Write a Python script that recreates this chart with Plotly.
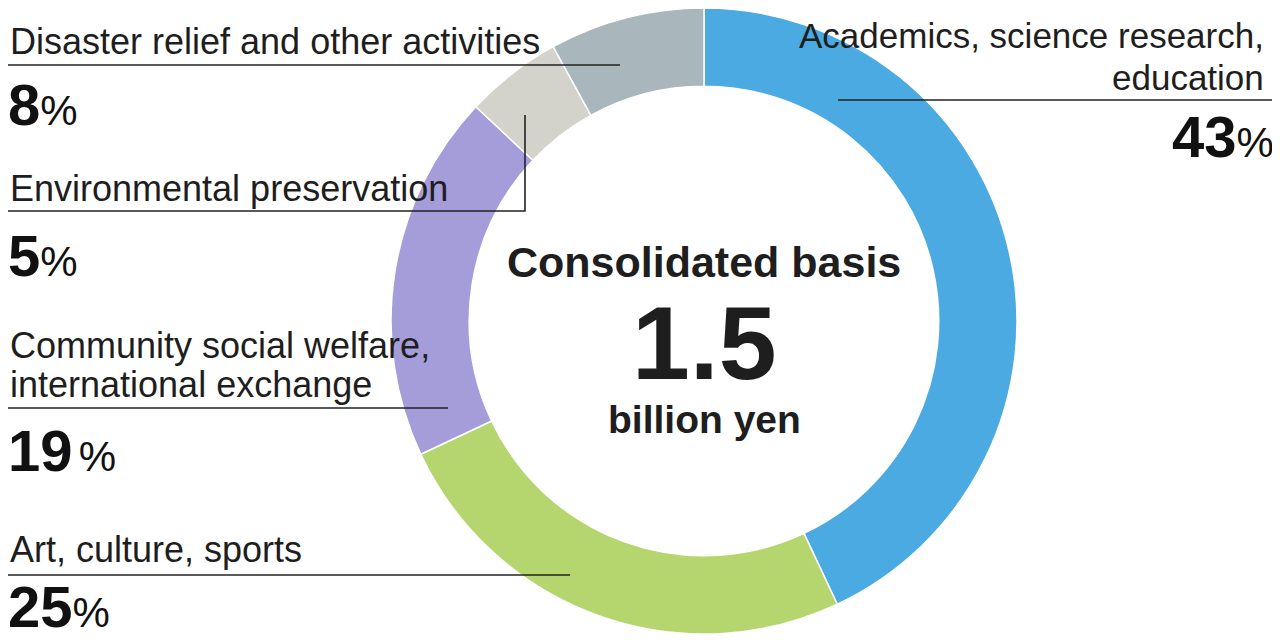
import plotly.graph_objects as go

categories = ["Academics, science research, education", "Art, culture, sports",
              "Community social welfare, international exchange",
              "Environmental preservation", "Disaster relief and other activities"]
shares = [43, 25, 19, 5, 8]
colors = ["#4baae2", "#b5d66f", "#a59cda", "#d4d3cb", "#a9b6bc"]

total_value = "1.5"

# page geometry: the html body has an 8px margin, so the figure starts at (8, 8)
OFF = 8
PW, PH = 1280, 642
W, H = PW - OFF, PH - OFF
FONT = "Liberation Sans, Arial, sans-serif"
TXT = "#1e1e1e"

# pie geometry (screen pixels)
cx, cy, R = 704, 321, 313

def clamp(v):
    return min(1.0, max(0.0, v))

fig = go.Figure()
fig.add_trace(go.Pie(
    labels=categories, values=shares, sort=False, direction="clockwise", rotation=0,
    hole=0.75, textinfo="none", hoverinfo="label+percent",
    marker=dict(colors=colors, line=dict(color="white", width=1.5)),
    domain=dict(x=[clamp((cx - R - OFF) / W), clamp((cx + R - OFF) / W)],
                y=[clamp((PH - cy - R) / H), clamp((PH - cy + R) / H)]),
    showlegend=False,
))

def label(x, y, text, size=36, anchor="left", bold=False, xshift=0):
    fig.add_annotation(x=x, y=y, xref="x", yref="y", text=f"<b>{text}</b>" if bold else text,
                       showarrow=False, xanchor=anchor, yanchor="middle", xshift=xshift,
                       font=dict(family=FONT, size=size, color=TXT), align=anchor)

def pct(x, y, v, anchor="left", gap="", xshift=0):
    fig.add_annotation(x=x, y=y, xref="x", yref="y", xshift=xshift,
                       text=f"<b>{v}</b>{gap}<span style='font-size:42px'>%</span>",
                       showarrow=False, xanchor=anchor, yanchor="middle",
                       font=dict(family=FONT, size=58, color="#111"))

# left labels
label(8, 41, "Disaster relief and other activities")
pct(8, 104, shares[4], xshift=-2)
label(8, 188, "Environmental preservation")
pct(8, 255, shares[3], xshift=-2)
label(8, 345, "Community social welfare,")
label(8, 384, "international exchange")
pct(8, 450, shares[2], gap="<span style='font-size:22px'> </span>", xshift=-2)
label(8, 549, "Art, culture, sports")
pct(8, 606, shares[1], xshift=-2)
# right label
label(1266, 35, "Academics, science research,", anchor="right", size=35)
label(1266, 77, "education", anchor="right", size=35)
pct(1276, 136, shares[0], anchor="right")

# center text
label(cx, 262, "Consolidated basis", size=43, anchor="center", bold=True)
label(cx, 343, total_value, size=104, anchor="center", bold=True)
label(cx, 419, "billion yen", size=39, anchor="center", bold=True)

# leader lines
line = dict(color="#222", width=1.6)
fig.add_shape(type="line", x0=8, x1=620, y0=65, y1=65, xref="x", yref="y", line=line)
fig.add_shape(type="path", path="M 8 211 L 525 211 L 525 115", xref="x", yref="y", line=line)
fig.add_shape(type="line", x0=8, x1=448, y0=408, y1=408, xref="x", yref="y", line=line)
fig.add_shape(type="line", x0=8, x1=570, y0=575, y1=575, xref="x", yref="y", line=line)
fig.add_shape(type="line", x0=838, x1=1272, y0=100, y1=100, xref="x", yref="y", line=line)

fig.update_layout(
    width=W, height=H, margin=dict(l=0, r=0, t=0, b=0),
    paper_bgcolor="white", plot_bgcolor="rgba(0,0,0,0)",
    xaxis=dict(range=[OFF, PW], visible=False, fixedrange=True),
    yaxis=dict(range=[PH, OFF], visible=False, fixedrange=True),
)
fig.write_html("out.html")
